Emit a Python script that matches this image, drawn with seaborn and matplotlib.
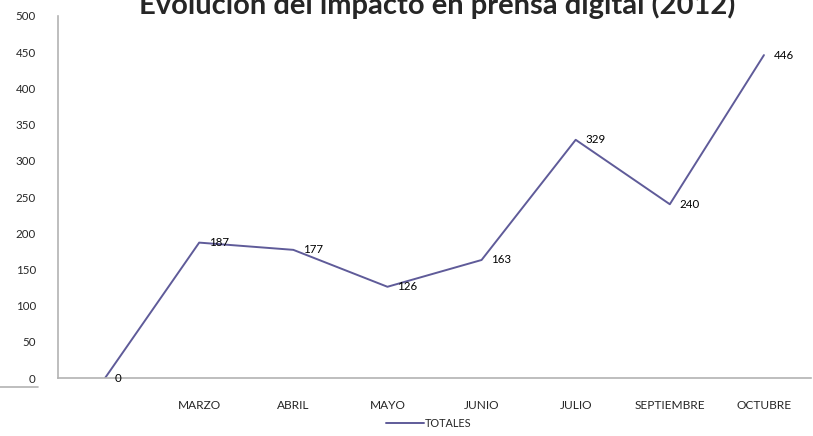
import matplotlib
matplotlib.use("Agg")
import matplotlib.pyplot as plt
import seaborn as sns
import pandas as pd
from matplotlib.lines import Line2D

# datos
meses = ["", "MARZO", "ABRIL", "MAYO", "JUNIO", "JULIO", "SEPTIEMBRE", "OCTUBRE"]
totales = [0, 187, 177, 126, 163, 329, 240, 446]
titulo = "Evolución del impacto en prensa digital (2012)"
serie = "TOTALES"

df = pd.DataFrame({"pos": range(len(meses)), "valor": totales, "serie": serie})

sns.set_style("white")
plt.rcParams['font.family'] = ['Lato', 'DejaVu Sans']

color = "#5f5b99"
fig = plt.figure(figsize=(8.13, 4.36), dpi=100)
ax = fig.add_axes([58 / 813, 58 / 436, 753 / 813, 362 / 436])

sns.lineplot(data=df, x="pos", y="valor", hue="serie", palette=[color],
             linewidth=1.4, ax=ax, legend=False)

# etiquetas de datos
for i, v in enumerate(totales):
    ax.annotate(str(v), (i, v), xytext=(7, 0), textcoords="offset points",
                ha="left", va="center", fontsize=8.3, color="black")

ax.set_xlim(-0.5, len(meses) - 0.5)
ax.set_ylim(0, 500)
ax.set_yticks(range(0, 501, 50))
ax.set_xticks(range(len(meses)))
ax.set_xticklabels(meses)
ax.tick_params(axis="x", length=0, pad=16, labelsize=8.6)
ax.tick_params(axis="y", length=0, pad=16, labelsize=8.3)
ax.set_xlabel("")
ax.set_ylabel("")

for s in ["top", "right"]:
    ax.spines[s].set_visible(False)
for s in ["left", "bottom"]:
    ax.spines[s].set_color("#b3b3b3")
    ax.spines[s].set_linewidth(1.2)

fig.text(437 / 813, 1 - 14 / 436, titulo, ha="center", va="baseline",
         fontsize=21, fontweight="bold")

# linea suelta de la izquierda
fig.add_artist(Line2D([0, 38 / 813], [1 - 387 / 436, 1 - 387 / 436],
                      color="#b3b3b3", linewidth=1.2))

handle = Line2D([], [], color=color, linewidth=1.4)
fig.legend([handle], [serie], loc="center", bbox_to_anchor=(429 / 813, 1 - 423 / 436),
           frameon=False, fontsize=7.8, handlelength=3.5, handletextpad=0.1)

fig.savefig("out.png", dpi=100)
